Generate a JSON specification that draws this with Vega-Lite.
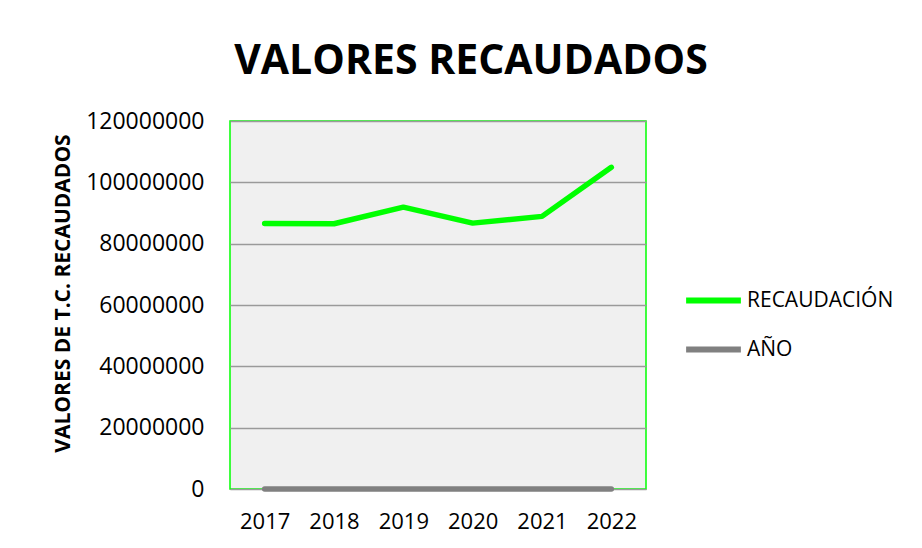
{
  "$schema": "https://vega.github.io/schema/vega-lite/v6.json",
  "width": 416,
  "height": 368,
  "autosize": {"type": "none"},
  "padding": {"left": 230, "top": 121, "right": 276, "bottom": 59},
  "background": "white",
  "title": {"text": "VALORES RECAUDADOS", "font": "Open Sans", "fontSize": 41, "fontWeight": "bold", "color": "black", "anchor": "middle", "frame": "group", "dx": 33, "offset": 27},
  "data": {"values": [
    {"year": "2017", "serie": "RECAUDACIÓN", "value": 86600000},
    {"year": "2018", "serie": "RECAUDACIÓN", "value": 86500000},
    {"year": "2019", "serie": "RECAUDACIÓN", "value": 91900000},
    {"year": "2020", "serie": "RECAUDACIÓN", "value": 86700000},
    {"year": "2021", "serie": "RECAUDACIÓN", "value": 88900000},
    {"year": "2022", "serie": "RECAUDACIÓN", "value": 104900000},
    {"year": "2017", "serie": "AÑO", "value": 2017},
    {"year": "2018", "serie": "AÑO", "value": 2018},
    {"year": "2019", "serie": "AÑO", "value": 2019},
    {"year": "2020", "serie": "AÑO", "value": 2020},
    {"year": "2021", "serie": "AÑO", "value": 2021},
    {"year": "2022", "serie": "AÑO", "value": 2022}
  ]},
  "mark": {"type": "line", "strokeWidth": 5.5, "strokeCap": "round", "strokeJoin": "round"},
  "encoding": {
    "x": {"field": "year", "type": "ordinal", "scale": {"type": "point", "padding": 0.5},
      "axis": {"title": null, "labelAngle": 0, "domain": false, "ticks": false, "grid": false, "labelFont": "Open Sans", "labelFontSize": 22, "labelColor": "black", "labelPadding": 22}},
    "y": {"field": "value", "type": "quantitative", "scale": {"domain": [0, 120000000]},
      "axis": {"title": "VALORES DE T.C. RECAUDADOS", "titleFont": "Open Sans", "titleFontSize": 21, "titleFontWeight": "bold", "titleColor": "black", "titlePadding": 12, "titleY": 172,
        "values": [0, 20000000, 40000000, 60000000, 80000000, 100000000, 120000000], "format": "d",
        "domain": false, "ticks": false, "labelFont": "Open Sans", "labelFontSize": 23, "labelColor": "black", "labelPadding": 26,
        "grid": true, "gridColor": "#9a9a9a", "gridWidth": 1.3}},
    "color": {"field": "serie", "type": "nominal", "sort": ["RECAUDACIÓN", "AÑO"],
      "scale": {"domain": ["RECAUDACIÓN", "AÑO"], "range": ["#00FF00", "#808080"]},
      "legend": {"title": null, "orient": "none", "legendX": 453, "legendY": 149, "symbolType": "stroke", "symbolSize": 3000, "symbolStrokeWidth": 6,
        "labelFont": "Open Sans", "labelFontSize": 21, "labelColor": "black", "labelOffset": 3, "rowPadding": 6}}
  },
  "config": {"view": {"fill": "#F0F0F0", "stroke": "#00FF00", "strokeWidth": 1.5}}
}
